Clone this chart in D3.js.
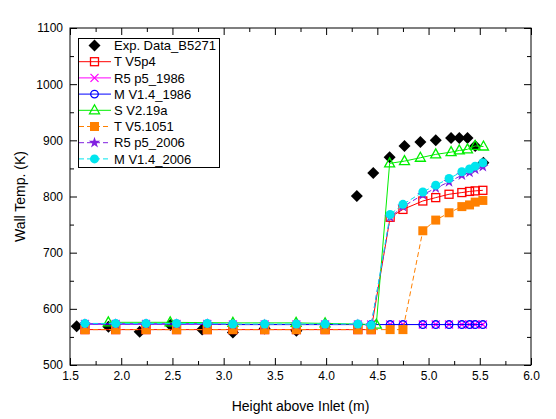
<!DOCTYPE html>
<html><head><meta charset="utf-8">
<script src="https://cdn.jsdelivr.net/npm/d3@7"></script>
<style>body{margin:0;background:#fff}svg{display:block}text{font-family:"Liberation Sans",Arial,sans-serif}</style>
</head><body><svg id="c" width="556" height="419"></svg>
<script>
const xTicks = [1.5,2.0,2.5,3.0,3.5,4.0,4.5,5.0,5.5,6.0];
const yTicks = [500,600,700,800,900,1000,1100];

const expX = [1.565,1.875,2.18,2.48,2.79,3.09,3.40,3.71,4.30,4.46,4.62,4.765,4.92,5.07,5.22,5.30,5.38,5.455,5.535];
const expY = [569,568,559,571,563,558,565,561,801,842,870,890,897,900,904,904,904,890,860];

const nodeX = [1.646,1.946,2.242,2.54,2.84,3.09,3.40,3.71,3.99,4.31,4.44,4.625,4.75,4.944,5.07,5.20,5.325,5.40,5.455,5.53];

const tv5p4Y   = [563,563,563,563,563,563,563,563,563,563,563,763,777,792,798,804,807,809,810,811];
const r5_1986Y = [573,573,573,573,573,572,572,572,572,572,572,572,572,572,572,572,572,572,572,572];
const m_1986Y  = [573,573,573,573,573,572,572,572,572,572,572,572,572,572,572,572,572,572,572,572];
const tv1051Y  = [563,563,563,563,563,563,563,563,563,563,563,563,563,739,758,771,782,785,790,793];
const r5_2006Y = [573,573,573,573,573,572,572,572,572,572,571,763,782,803,815,826,838,843,848,853];
const m_2006Y  = [574,574,574,574,574,573,573,573,573,573,571,768,786,808,820,832,844,849,854,860];

const sX = [1.874,2.478,3.09,3.707,3.99,4.49,4.62,4.765,4.92,5.07,5.22,5.30,5.38,5.455,5.536];
const sY = [576,576,575,575,574,572,859,863,869,875,879,882,884,890,889];

const names = ["Exp. Data_B5271","T V5p4","R5 p5_1986","M V1.4_1986","S V2.19a","T V5.1051","R5 p5_2006","M V1.4_2006"];

const svg = d3.select("#c");
const L=70,R=531,T=28,B=365;
const x = d3.scaleLinear().domain([1.5,6.0]).range([L,R]);
const y = d3.scaleLinear().domain([500,1100]).range([B,T]);

const series = [
 {name:names[0], xs:expX, ys:expY, color:"#000", marker:"diamond", line:false},
 {name:names[1], xs:nodeX, ys:tv5p4Y, color:"#ff0000", marker:"square", line:true, dash:null},
 {name:names[2], xs:nodeX, ys:r5_1986Y, color:"#ff00ff", marker:"x", line:true, dash:null},
 {name:names[3], xs:nodeX, ys:m_1986Y, color:"#0000ff", marker:"circle", line:true, dash:null},
 {name:names[4], xs:sX, ys:sY, color:"#00ee00", marker:"triangle", line:true, dash:null},
 {name:names[5], xs:nodeX, ys:tv1051Y, color:"#ff8000", marker:"fsquare", line:true, dash:"5,3"},
 {name:names[6], xs:nodeX, ys:r5_2006Y, color:"#8020e0", marker:"star", line:true, dash:"5,3"},
 {name:names[7], xs:nodeX, ys:m_2006Y, color:"#00e5ee", marker:"fcircle", line:true, dash:"5,3"}
];

function drawMarker(g, type, cx, cy, color){
  switch(type){
    case "diamond": g.append("path").attr("d",`M${cx},${cy-6}L${cx+6},${cy}L${cx},${cy+6}L${cx-6},${cy}Z`).attr("fill",color); break;
    case "square": g.append("rect").attr("x",cx-4).attr("y",cy-4).attr("width",8).attr("height",8).attr("fill","none").attr("stroke",color).attr("stroke-width",1.3); break;
    case "fsquare": g.append("rect").attr("x",cx-4.5).attr("y",cy-4.5).attr("width",9).attr("height",9).attr("fill",color); break;
    case "x": g.append("path").attr("d",`M${cx-4},${cy-4}L${cx+4},${cy+4}M${cx-4},${cy+4}L${cx+4},${cy-4}`).attr("stroke",color).attr("stroke-width",1.3); break;
    case "circle": g.append("circle").attr("cx",cx).attr("cy",cy).attr("r",3.8).attr("fill","none").attr("stroke",color).attr("stroke-width",1.3); break;
    case "fcircle": g.append("circle").attr("cx",cx).attr("cy",cy).attr("r",4.5).attr("fill",color); break;
    case "triangle": g.append("path").attr("d",`M${cx},${cy-5.5}L${cx+5},${cy+3.5}L${cx-5},${cy+3.5}Z`).attr("fill","none").attr("stroke",color).attr("stroke-width",1.3); break;
    case "star": g.append("path").attr("d",d3.symbol(d3.symbolStar,40)()).attr("transform",`translate(${cx},${cy})`).attr("fill",color); break;
  }
}

// plot data
const plot = svg.append("g");
series.forEach(s=>{
  const pts = s.xs.map((v,i)=>[v,s.ys[i]]);
  if(s.line){
    plot.append("path").datum(pts)
      .attr("d",d3.line().x(d=>x(d[0])).y(d=>y(d[1])))
      .attr("fill","none").attr("stroke",s.color).attr("stroke-width",1)
      .attr("stroke-dasharray",s.dash);
  }
  pts.forEach(d=>drawMarker(plot,s.marker,x(d[0]),y(d[1]),s.color));
});

// axes frame
const ax = svg.append("g");
ax.append("rect").attr("x",L).attr("y",T).attr("width",R-L).attr("height",B-T).attr("fill","none").attr("stroke","#000").attr("stroke-width",1);

const xMinor = d3.range(1.75,6.0,0.5);
const yMinor = d3.range(550,1100,100);
svg.append("g").attr("transform",`translate(0,${B})`).call(d3.axisBottom(x).tickValues(xTicks).tickSizeInner(-7).tickSizeOuter(0).tickFormat(d3.format(".1f")))
  .call(g=>{g.select(".domain").remove(); g.selectAll("text").attr("dy","1.25em").attr("y",0).attr("font-size",12).attr("font-family","Liberation Sans, Arial");});
svg.append("g").attr("transform",`translate(0,${B})`).call(d3.axisBottom(x).tickValues(xMinor).tickSizeInner(-4).tickSizeOuter(0).tickFormat(""))
  .call(g=>g.select(".domain").remove());
svg.append("g").attr("transform",`translate(0,${T})`).call(d3.axisTop(x).tickValues(xTicks).tickSizeInner(-7).tickSizeOuter(0).tickFormat(""))
  .call(g=>g.select(".domain").remove());
svg.append("g").attr("transform",`translate(0,${T})`).call(d3.axisTop(x).tickValues(xMinor).tickSizeInner(-4).tickSizeOuter(0).tickFormat(""))
  .call(g=>g.select(".domain").remove());

svg.append("g").attr("transform",`translate(${L},0)`).call(d3.axisLeft(y).tickValues(yTicks).tickSizeInner(-7).tickSizeOuter(0).tickFormat(d3.format("d")))
  .call(g=>{g.select(".domain").remove(); g.selectAll("text").attr("x",-7).attr("font-size",12).attr("font-family","Liberation Sans, Arial");});
svg.append("g").attr("transform",`translate(${L},0)`).call(d3.axisLeft(y).tickValues(yMinor).tickSizeInner(-4).tickSizeOuter(0).tickFormat(""))
  .call(g=>g.select(".domain").remove());
svg.append("g").attr("transform",`translate(${R},0)`).call(d3.axisRight(y).tickValues(yTicks).tickSizeInner(-7).tickSizeOuter(0).tickFormat(""))
  .call(g=>g.select(".domain").remove());
svg.append("g").attr("transform",`translate(${R},0)`).call(d3.axisRight(y).tickValues(yMinor).tickSizeInner(-4).tickSizeOuter(0).tickFormat(""))
  .call(g=>g.select(".domain").remove());

svg.selectAll(".tick line").attr("stroke","#000");
svg.selectAll(".tick text").attr("fill","#000");

// axis titles
svg.append("text").attr("x",(L+R)/2).attr("y",411).attr("text-anchor","middle").attr("font-size",14).text("Height above Inlet (m)");
svg.append("text").attr("transform",`translate(25,${(T+B)/2}) rotate(-90)`).attr("text-anchor","middle").attr("font-size",14).text("Wall Temp. (K)");

// legend
const lg = svg.append("g");
lg.append("rect").attr("x",78.5).attr("y",38.5).attr("width",141).attr("height",129).attr("fill","#fff").attr("stroke","#000").attr("stroke-width",1);
series.forEach((s,i)=>{
  const cy = 45.5 + i*16.2;
  if(s.line){
    lg.append("line").attr("x1",79).attr("x2",111).attr("y1",cy).attr("y2",cy)
      .attr("stroke",s.color).attr("stroke-width",1).attr("stroke-dasharray",s.dash);
  }
  drawMarker(lg,s.marker,94.5,cy,s.color);
  lg.append("text").attr("x",114).attr("y",cy).attr("dy","0.36em").attr("font-size",13).text(s.name);
});
</script></body></html>
